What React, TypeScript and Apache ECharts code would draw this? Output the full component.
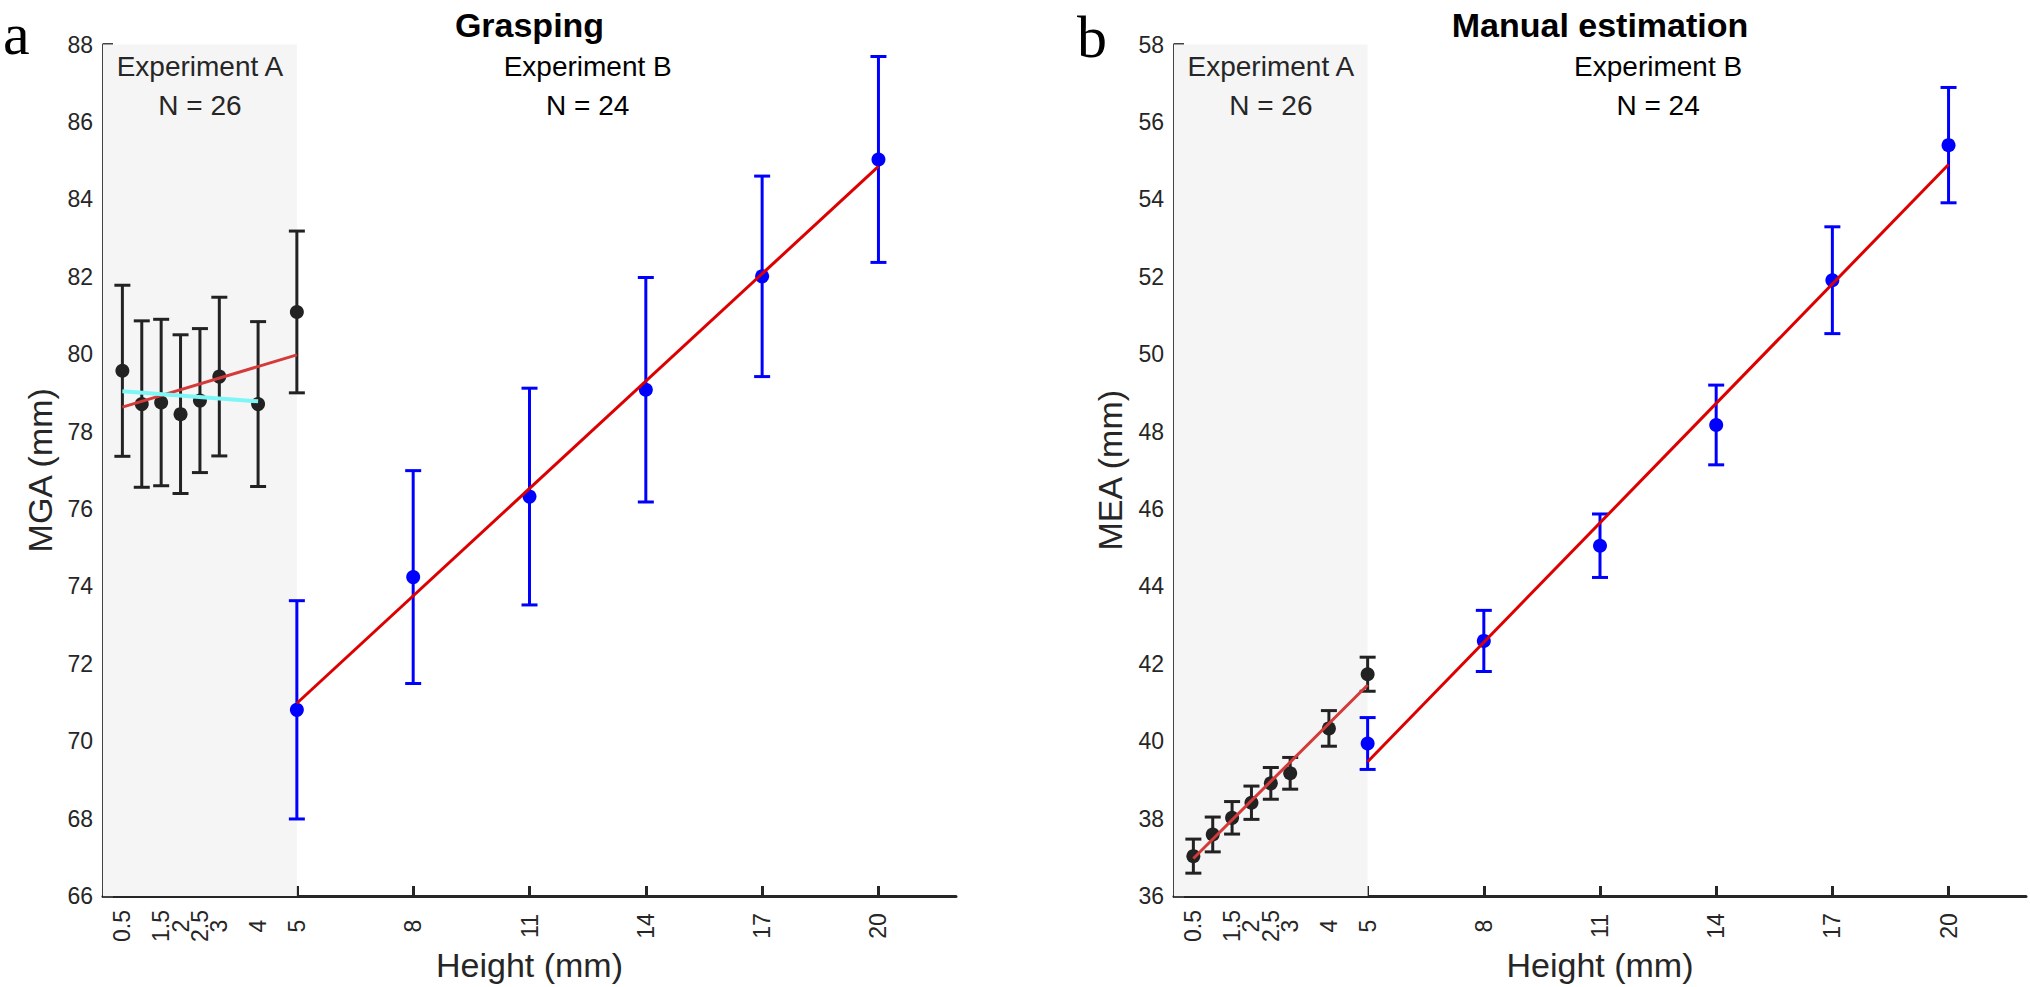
import React, { useEffect, useRef } from "react";
import * as echarts from "echarts";

// ---------- data ----------
const heightsA = [0.5, 1, 1.5, 2, 2.5, 3, 4, 5];
const heightsB = [5, 8, 11, 14, 17, 20];
const xTicks = [0.5, 1, 1.5, 2, 2.5, 3, 4, 5, 8, 11, 14, 17, 20];
const xRange = [0, 22];

// Panel a: Grasping (MGA)
const mgaRange = [66, 88];
const mgaMeanA = [79.57, 78.71, 78.75, 78.45, 78.8, 79.42, 78.71, 81.09];
const mgaErrA = [2.21, 2.15, 2.15, 2.05, 1.86, 2.05, 2.13, 2.09];
const mgaMeanB = [70.81, 74.24, 76.32, 79.08, 82.01, 85.03];
const mgaErrB = [2.82, 2.75, 2.8, 2.9, 2.59, 2.66];
const mgaFitA = [[0.5, 78.63], [5, 79.98]];
const mgaFitA2 = [[0.5, 79.04], [4, 78.78]];
const mgaFitB = [[5, 70.98], [20, 84.85]];

// Panel b: Manual estimation (MEA)
const meaRange = [36, 58];
const meaMeanA = [37.03, 37.59, 38.02, 38.41, 38.91, 39.17, 40.33, 41.73];
const meaErrA = [0.44, 0.45, 0.42, 0.43, 0.41, 0.41, 0.46, 0.44];
const meaMeanB = [39.94, 42.59, 45.05, 48.17, 51.91, 55.4];
const meaErrB = [0.67, 0.79, 0.82, 1.03, 1.38, 1.49];
const meaFitA = [[0.5, 36.97], [5, 41.45]];
const meaFitB = [[5, 39.47], [20, 54.9]];

const shadeRange = [0, 5];

// ---------- styles ----------
const FONT = '"Liberation Sans", Arial, Helvetica, sans-serif';
const SERIF = '"Liberation Serif", "Times New Roman", serif';
const AXIS = "#262626";
const BLACK = "#222222";
const BLUE = "#0000ff";
const RED_A = "#d43a3a";
const RED_B = "#dd0000";
const CYAN = "#7ef6f6";
const SHADE = "#f5f5f5";

const GRIDS = [
  { left: 103, top: 44.5, width: 853, height: 851.5 },
  { left: 1174, top: 44.5, width: 852, height: 851.5 },
];

function errData(xs: number[], m: number[], e: number[]) {
  return xs.map((x, i) => [x, m[i] - e[i], m[i] + e[i]]);
}
function pts(xs: number[], m: number[]) {
  return xs.map((x, i) => [x, m[i]]);
}

function errorSeries(gi: number, data: number[][], color: string) {
  return {
    type: "custom",
    xAxisIndex: gi,
    yAxisIndex: gi,
    z: 3,
    silent: true,
    encode: { x: 0, y: [1, 2] },
    data,
    renderItem: (params: any, api: any) => {
      const x = api.value(0);
      const p1 = api.coord([x, api.value(2)]);
      const p2 = api.coord([x, api.value(1)]);
      const w = 8;
      const st = { stroke: color, lineWidth: 3 };
      return {
        type: "group",
        children: [
          { type: "line", shape: { x1: p1[0], y1: p1[1], x2: p2[0], y2: p2[1] }, style: st },
          { type: "line", shape: { x1: p1[0] - w, y1: p1[1], x2: p1[0] + w, y2: p1[1] }, style: st },
          { type: "line", shape: { x1: p2[0] - w, y1: p2[1], x2: p2[0] + w, y2: p2[1] }, style: st },
        ],
      };
    },
  };
}

function shadeSeries(gi: number, yr: number[]) {
  return {
    type: "custom",
    xAxisIndex: gi,
    yAxisIndex: gi,
    z: 1,
    silent: true,
    data: [[shadeRange[0], shadeRange[1]]],
    renderItem: (params: any, api: any) => {
      const a = api.coord([api.value(0), yr[1]]);
      const b = api.coord([api.value(1), yr[0]]);
      return {
        type: "rect",
        shape: { x: a[0], y: a[1], width: b[0] - a[0], height: b[1] - a[1] },
        style: { fill: SHADE },
      };
    },
  };
}

function scatterSeries(gi: number, data: number[][], color: string) {
  return {
    type: "scatter",
    xAxisIndex: gi,
    yAxisIndex: gi,
    z: 4,
    silent: true,
    symbol: "circle",
    symbolSize: 14,
    itemStyle: { color, opacity: 1 },
    data,
  };
}

function lineSeries(gi: number, data: number[][], color: string, width = 3) {
  return {
    type: "line",
    xAxisIndex: gi,
    yAxisIndex: gi,
    z: 5,
    silent: true,
    showSymbol: false,
    symbol: "none",
    lineStyle: { color, width },
    data,
  };
}

function xAxisOpt(gi: number) {
  return {
    type: "value",
    gridIndex: gi,
    min: xRange[0],
    max: xRange[1],
    interval: 0.5,
    splitLine: { show: false },
    axisLine: { show: true, onZero: false, lineStyle: { color: AXIS, width: 3 } },
    axisTick: {
      show: true,
      inside: true,
      length: 10,
      customValues: xTicks,
      lineStyle: { color: AXIS, width: 3 },
    },
    axisLabel: {
      customValues: xTicks,
      rotate: 90,
      align: "center",
      verticalAlign: "middle",
      margin: 30,
      fontSize: 23,
      fontFamily: FONT,
      color: AXIS,
      showMinLabel: true,
      showMaxLabel: true,
      formatter: (v: number) => String(v),
    },
  };
}

function yAxisOpt(gi: number, yr: number[]) {
  return {
    type: "value",
    gridIndex: gi,
    min: yr[0],
    max: yr[1],
    interval: 2,
    splitLine: { show: false },
    axisLine: { show: true, onZero: false, lineStyle: { color: "#444", width: 3 } },
    axisTick: { show: true, inside: true, length: 10, lineStyle: { color: "#444", width: 3 } },
    axisLabel: {
      margin: 10,
      fontSize: 23,
      fontFamily: FONT,
      color: AXIS,
      showMinLabel: true,
      showMaxLabel: true,
    },
  };
}

function px(gi: number, x: number) {
  const g = GRIDS[gi];
  return g.left + ((x - xRange[0]) / (xRange[1] - xRange[0])) * g.width;
}

function txt(text: string, x: number, y: number, size: number, opts: any = {}) {
  return {
    type: "text",
    x,
    y,
    z: 100,
    rotation: opts.rotation || 0,
    silent: true,
    style: {
      text,
      fontSize: size,
      fontFamily: opts.family || FONT,
      fontWeight: opts.weight || "normal",
      fill: opts.fill || AXIS,
      align: opts.align || "center",
      verticalAlign: "middle",
    },
  };
}

export default function App() {
  const ref = useRef<HTMLDivElement>(null);
  useEffect(() => {
    if (!ref.current) return;
    const chart = echarts.init(ref.current, null, { renderer: "svg" });
    const graphics: any[] = [];
    const panels = [
      { letter: "a", lx: 3, ly: 34, title: "Grasping", ylab: "MGA (mm)", yx: 40 },
      { letter: "b", lx: 1077, ly: 37, title: "Manual estimation", ylab: "MEA (mm)", yx: 1110 },
    ];
    panels.forEach((p, gi) => {
      const g = GRIDS[gi];
      const cx = g.left + g.width / 2;
      const cy = g.top + g.height / 2;
      graphics.push(txt(p.letter, p.lx, p.ly, 60, { family: SERIF, fill: "#000", align: "left" }));
      graphics.push(txt(p.title, cx, 25, 34, { weight: "bold", fill: "#000" }));
      graphics.push(txt("Experiment A", px(gi, 2.5), 66, 28, { fill: "#262626" }));
      graphics.push(txt("N = 26", px(gi, 2.5), 105, 28, { fill: "#262626" }));
      graphics.push(txt("Experiment B", px(gi, 12.5), 66, 28, { fill: "#000" }));
      graphics.push(txt("N = 24", px(gi, 12.5), 105, 28, { fill: "#000" }));
      graphics.push(txt(p.ylab, p.yx, cy, 34, { rotation: Math.PI / 2 }));
      graphics.push(txt("Height (mm)", cx, 965, 34));
    });

    chart.setOption({
      animation: false,
      backgroundColor: "#ffffff",
      grid: GRIDS.map((g) => ({ ...g, containLabel: false, show: false })),
      xAxis: [xAxisOpt(0), xAxisOpt(1)],
      yAxis: [yAxisOpt(0, mgaRange), yAxisOpt(1, meaRange)],
      series: [
        shadeSeries(0, mgaRange),
        errorSeries(0, errData(heightsA, mgaMeanA, mgaErrA), BLACK),
        errorSeries(0, errData(heightsB, mgaMeanB, mgaErrB), BLUE),
        scatterSeries(0, pts(heightsA, mgaMeanA), BLACK),
        scatterSeries(0, pts(heightsB, mgaMeanB), BLUE),
        lineSeries(0, mgaFitA, RED_A),
        lineSeries(0, mgaFitA2, CYAN, 4),
        lineSeries(0, mgaFitB, RED_B),
        shadeSeries(1, meaRange),
        errorSeries(1, errData(heightsA, meaMeanA, meaErrA), BLACK),
        errorSeries(1, errData(heightsB, meaMeanB, meaErrB), BLUE),
        scatterSeries(1, pts(heightsA, meaMeanA), BLACK),
        scatterSeries(1, pts(heightsB, meaMeanB), BLUE),
        lineSeries(1, meaFitA, RED_A),
        lineSeries(1, meaFitB, RED_B),
      ],
      graphic: { elements: graphics, z: 100 },
    });
    return () => chart.dispose();
  }, []);
  return (
    <div
      ref={ref}
      style={{ position: "absolute", left: 0, top: 0, width: 2030, height: 987, background: "#fff" }}
    />
  );
}
